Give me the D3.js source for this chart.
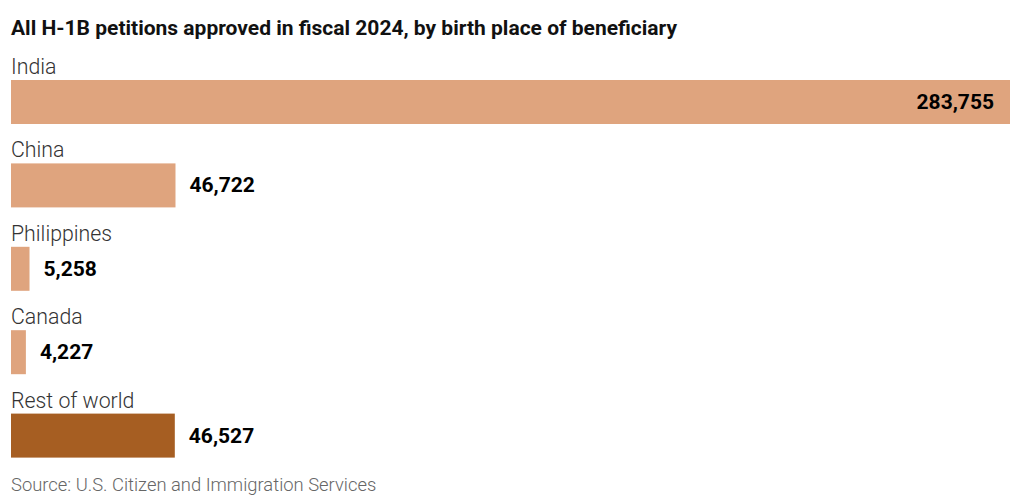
<!DOCTYPE html>
<html><head><meta charset="utf-8">
<script src="https://cdn.jsdelivr.net/npm/d3@7"></script>
<style>body{margin:0;background:#fff;} svg{display:block;}</style>
</head><body>
<svg id="c" width="1024" height="501"></svg>
<script>
const categories = ["India","China","Philippines","Canada","Rest of world"];
const values = [283755, 46722, 5258, 4227, 46527];
const highlight = [false,false,false,false,true];
const title = "All H-1B petitions approved in fiscal 2024, by birth place of beneficiary";
const source = "Source: U.S. Citizen and Immigration Services";

const svg = d3.select("#c");
const left = 11, right = 1010;
const x = d3.scaleLinear().domain([0, d3.max(values)]).range([left, right]);
const y = d3.scaleBand().domain(categories).range([53, 470]).paddingInner(0);
const barTop = 27, barH = 44;

svg.append("text").attr("x", 11).attr("y", 35)
  .attr("font-family", "Roboto, sans-serif")
  .attr("font-weight", 700).attr("font-size", 21).attr("fill", "#111")
  .attr("textLength", 666).attr("lengthAdjust", "spacingAndGlyphs").text(title);

const g = svg.selectAll("g.row").data(categories).join("g").attr("class","row")
  .attr("transform", d => `translate(0,${y(d)})`);

g.append("text").attr("x", 11).attr("y", 21)
  .attr("font-family", "Roboto, sans-serif").attr("font-weight", 300)
  .attr("font-size", 21.3).attr("fill", "#333").text(d => d);

g.append("rect").attr("x", left).attr("y", barTop)
  .attr("width", (d,i) => x(values[i]) - left).attr("height", barH)
  .attr("fill", (d,i) => highlight[i] ? "#A65E22" : "#DFA47E");

g.append("text")
  .attr("x", (d,i) => i === 0 ? x(values[i]) - 16 : x(values[i]) + 14)
  .attr("y", barTop + barH/2 + 7)
  .attr("text-anchor", (d,i) => i === 0 ? "end" : "start")
  .attr("font-family", "'Liberation Sans Narrow', Roboto, sans-serif")
  .attr("font-weight", 700).attr("font-size", 21).attr("fill", "#000")
  .text((d,i) => d3.format(",")(values[i]));

svg.append("text").attr("x", 11).attr("y", 491)
  .attr("font-family", "Roboto, sans-serif").attr("font-weight", 300)
  .attr("font-size", 18.4).attr("fill", "#666").text(source);
</script>
</body></html>
